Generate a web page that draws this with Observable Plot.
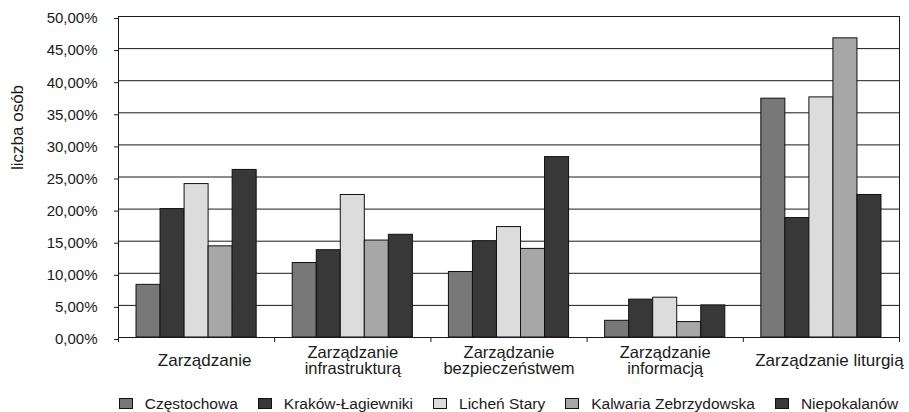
<!DOCTYPE html>
<html>
<head>
<meta charset="utf-8">
<script src="https://cdn.jsdelivr.net/npm/d3@7"></script>
<script src="https://cdn.jsdelivr.net/npm/@observablehq/plot@0.6"></script>
<style>
  html, body { overflow: hidden; }
  body { margin: 0; background: #fff; font-family: "Liberation Sans", Arial, sans-serif; color: #1a1a1a; }
  #legend {
    position: relative; top: 5px;
    display: flex; justify-content: center; align-items: center;
    width: 909px; box-sizing: border-box; padding: 0 10px 0 118px;
    height: 27px; font-size: 15.5px; white-space: nowrap;
  }
  #legend .item { display: flex; align-items: center; margin: 0 10px; }
  #legend .sw { width: 12px; height: 9px; border: 1px solid #111; margin-right: 12px; }
</style>
</head>
<body>
<div id="chart"></div>
<div id="legend"></div>
<script>
// Categories (x groups) and series (bars within each group)
const categories = [
  "Zarządzanie",
  "Zarządzanie\ninfrastrukturą",
  "Zarządzanie\nbezpieczeństwem",
  "Zarządzanie\ninformacją",
  "Zarządzanie liturgią"
];
const series = ["Częstochowa", "Kraków-Łagiewniki", "Licheń Stary", "Kalwaria Zebrzydowska", "Niepokalanów"];
const seriesColors = ["#787878", "#383838", "#dcdcdc", "#a7a7a7", "#383838"];

// Share of respondents (%) per category, one array per site
const czestochowa  = [8.2, 11.6, 10.2, 2.6, 37.2];
const krakow       = [20.0, 13.6, 15.0, 5.9, 18.6];
const lichen       = [23.9, 22.2, 17.2, 6.2, 37.4];
const kalwaria     = [14.2, 15.1, 13.8, 2.4, 46.6];
const niepokalanow = [26.1, 16.0, 28.1, 5.0, 22.2];

const yTicks = [0, 5, 10, 15, 20, 25, 30, 35, 40, 45, 50];
const yTitle = "liczba osób";

const valuesBySeries = [czestochowa, krakow, lichen, kalwaria, niepokalanow];
const rows = [];
categories.forEach((c, ci) => {
  series.forEach((s, si) => {
    rows.push({ci, category: c, series: s, value: valuesBySeries[si][ci]});
  });
});

// Position of each bar within its category slot
const inner = d3.scaleBand(series, [0, 1]).paddingInner(0).paddingOuter(0.75);
const pct = d => d.toFixed(2).replace(".", ",") + "%";

const chart = Plot.plot({
  width: 909,
  height: 385,
  marginLeft: 118,
  marginRight: 10,
  marginTop: 16,
  marginBottom: 48,
  style: {fontFamily: "'Liberation Sans', Arial, sans-serif", fontSize: "15px", color: "#1a1a1a", background: "#fff"},
  x: {domain: [0, categories.length], axis: null},
  y: {domain: [0, 50], axis: null},
  color: {domain: series, range: seriesColors},
  marks: [
    Plot.gridY(yTicks, {stroke: "#1a1a1a", strokeOpacity: 1}),
    Plot.rect(rows, {
      x1: d => d.ci + inner(d.series),
      x2: d => d.ci + inner(d.series) + inner.bandwidth(),
      y1: 0,
      y2: "value",
      fill: "series",
      stroke: "#111",
      strokeWidth: 1
    }),
    Plot.frame({stroke: "#1a1a1a"}),
    Plot.axisY({ticks: yTicks, tickSize: 4, tickPadding: 17, tickFormat: pct, fontSize: 15, label: null, dy: 2}),
    Plot.axisX({ticks: d3.range(categories.length + 1), tickSize: 5, tickFormat: () => "", label: null}),
    Plot.text(categories, {
      x: (d, i) => i + 0.5,
      filter: d => d.includes("\n"),
      frameAnchor: "bottom", dy: 23, lineAnchor: "middle", lineHeight: 1, fontSize: 16.5, fill: "#1a1a1a"
    }),
    Plot.text(categories, {
      x: (d, i) => i + 0.5,
      filter: d => !d.includes("\n"),
      frameAnchor: "bottom", dx: 8, dy: 23, lineAnchor: "middle", fontSize: 17, fill: "#1a1a1a"
    }),
    Plot.text([yTitle], {frameAnchor: "left", rotate: -90, dx: -101, dy: -7, fontSize: 17, fill: "#1a1a1a"})
  ]
});
document.getElementById("chart").appendChild(chart);

// Swatch legend built from the chart's color scale
const color = chart.scale("color");
const legend = document.getElementById("legend");
color.domain.forEach((name, i) => {
  const item = document.createElement("div");
  item.className = "item";
  const sw = document.createElement("span");
  sw.className = "sw";
  sw.style.background = color.range[i];
  item.appendChild(sw);
  item.appendChild(document.createTextNode(name));
  legend.appendChild(item);
});
</script>
</body>
</html>
